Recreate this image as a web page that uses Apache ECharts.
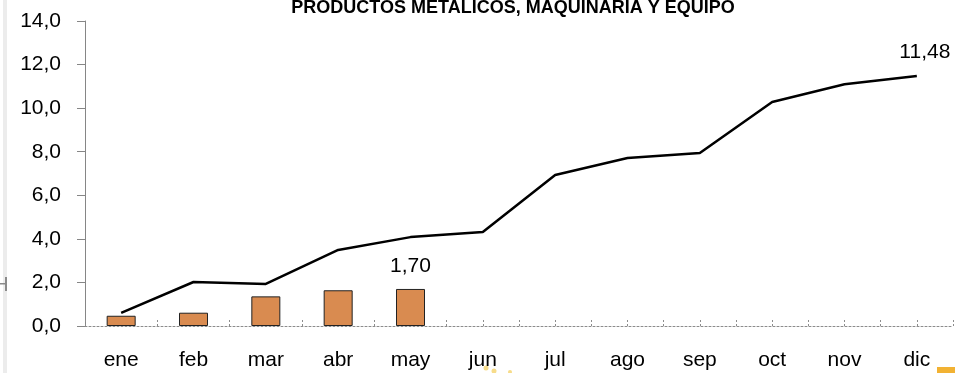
<!DOCTYPE html>
<html>
<head>
<meta charset="utf-8">
<script src="https://cdn.jsdelivr.net/npm/echarts@6/dist/echarts.min.js"></script>
<style>
  html, body { margin: 0; padding: 0; background: #ffffff; }
  #chart { width: 955px; height: 373px; }
</style>
</head>
<body>
<div id="chart"></div>
<script>
// Months of the year
const months = ['ene', 'feb', 'mar', 'abr', 'may', 'jun', 'jul', 'ago', 'sep', 'oct', 'nov', 'dic'];
// Monthly values (bars), available through May
const monthlyValues = [0.47, 0.61, 1.36, 1.64, 1.70, null, null, null, null, null, null, null];
// Cumulative line over the year
const cumulativeValues = [0.60, 2.02, 1.93, 3.49, 4.08, 4.31, 6.93, 7.71, 7.94, 10.28, 11.10, 11.48];
const titleText = 'PRODUCTOS METALICOS, MAQUINARIA Y EQUIPO';

const FONT = '"Liberation Sans", Arial, sans-serif';

const chart = echarts.init(document.getElementById('chart'), null, { renderer: 'canvas' });

const fmt = v => v.toFixed(1).replace('.', ',');
const fmt2 = v => v.toFixed(2).replace('.', ',');

// Only the last point of the cumulative line carries a value label
const lineData = cumulativeValues.map((v, i) => ({
  value: v,
  label: { show: i === cumulativeValues.length - 1 }
}));

chart.setOption({
  animation: false,
  backgroundColor: '#ffffff',
  title: {
    text: titleText,
    left: 508,
    textAlign: 'center',
    top: -6,
    textStyle: { fontFamily: FONT, fontWeight: 'bold', fontSize: 18, color: '#000' }
  },
  grid: { left: 85, right: 2, top: 21, bottom: 47, containLabel: false },
  xAxis: [
    {
      type: 'category',
      data: months,
      boundaryGap: true,
      axisLine: { show: true, lineStyle: { color: '#8c8c8c', type: [2, 2], width: 1 } },
      axisTick: { show: true, inside: true, length: 6, alignWithLabel: false,
                  lineStyle: { color: '#8c8c8c', type: [2, 2] } },
      axisLabel: { fontFamily: FONT, fontSize: 21, color: '#000', margin: 24 },
      splitLine: { show: false }
    },
    {
      type: 'category',
      data: months,
      position: 'bottom',
      boundaryGap: true,
      axisLine: { show: false },
      axisTick: { show: true, inside: true, length: 6, alignWithLabel: true,
                  lineStyle: { color: '#8c8c8c', type: [2, 2] } },
      axisLabel: { show: false },
      splitLine: { show: false }
    }
  ],
  yAxis: {
    type: 'value',
    min: 0,
    max: 14,
    interval: 2,
    axisLine: { show: true, lineStyle: { color: '#868686', width: 1 } },
    axisTick: { show: true, inside: false, length: 8, lineStyle: { color: '#868686' } },
    axisLabel: { fontFamily: FONT, fontSize: 21, color: '#000', margin: 24, formatter: fmt },
    splitLine: { show: false }
  },
  series: [
    {
      type: 'bar',
      data: monthlyValues,
      barWidth: 29,
      itemStyle: { color: '#d98b50', borderColor: '#222222', borderWidth: 1 },
      label: {
        show: true,
        position: 'top',
        distance: 12,
        fontFamily: FONT,
        fontSize: 21,
        color: '#000',
        formatter: p => (p.dataIndex === 4 ? fmt2(p.value) : '')
      },
      z: 2
    },
    {
      type: 'line',
      data: lineData,
      symbol: 'circle',
      symbolSize: 0,
      showAllSymbol: true,
      lineStyle: { color: '#000', width: 2.5 },
      itemStyle: { color: '#000' },
      label: {
        show: false,
        position: 'top',
        fontFamily: FONT,
        fontSize: 21,
        color: '#000',
        offset: [8, -8],
        formatter: p => fmt2(p.value)
      },
      z: 3
    }
  ],
  graphic: [
    // faint frame edge on the left
    { type: 'rect', shape: { x: 3, y: 0, width: 4, height: 373 }, style: { fill: '#ececec' }, silent: true },
    { type: 'rect', shape: { x: 5, y: 277, width: 2, height: 14 }, style: { fill: '#8a8a8a' }, silent: true },
    { type: 'rect', shape: { x: 0, y: 283, width: 5, height: 1.5 }, style: { fill: '#8a8a8a' }, silent: true },
    // corner marks at the bottom edge
    { type: 'rect', shape: { x: 937, y: 367, width: 18, height: 6 }, style: { fill: '#f2b233' }, silent: true },
    { type: 'circle', shape: { cx: 486, cy: 368, r: 2.5 }, style: { fill: '#f7dc8a' }, silent: true },
    { type: 'circle', shape: { cx: 494, cy: 371, r: 2.5 }, style: { fill: '#f7dc8a' }, silent: true },
    { type: 'circle', shape: { cx: 510, cy: 372, r: 2 }, style: { fill: '#f7dc8a' }, silent: true }
  ]
});
</script>
</body>
</html>
